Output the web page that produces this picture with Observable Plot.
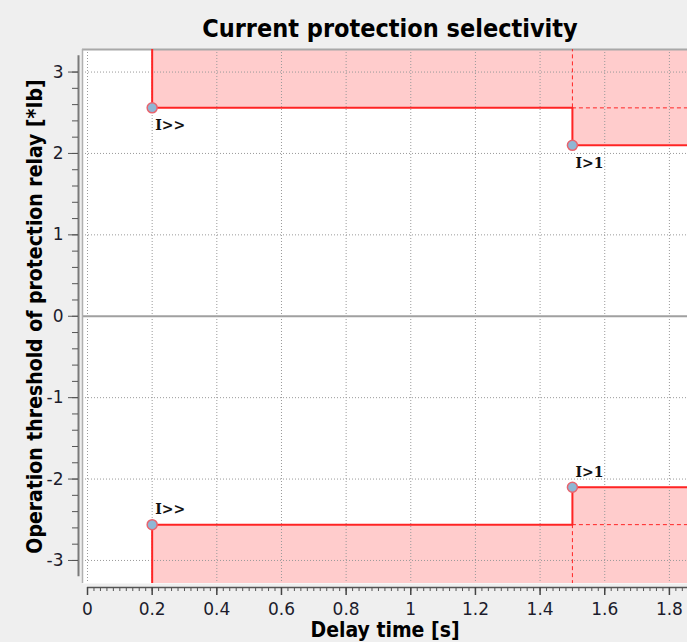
<!DOCTYPE html>
<html>
<head>
<meta charset="utf-8">
<script src="https://cdn.jsdelivr.net/npm/d3@7"></script>
<script src="https://cdn.jsdelivr.net/npm/@observablehq/plot@0.6"></script>
<style>
  html, body { margin: 0; padding: 0; background: #efefef; }
  #chart { width: 687px; height: 642px; overflow: hidden; }
  #title {
    height: 47px; box-sizing: border-box; padding-left: 93px; padding-top: 14px;
    text-align: center; font: bold 25px "DejaVu Sans Condensed", "DejaVu Sans", sans-serif;
    font-stretch: condensed; color: #000; line-height: 30px;
  }
  #chart svg g[aria-label$="tick label"] text {
    font-size: 17px !important;
    font-family: "DejaVu Sans", sans-serif !important;
    fill: #1c1c2c;
  }
</style>
</head>
<body>
<div id="chart">
  <div id="title">Current protection selectivity</div>
</div>
<script>
// ---- data ----
const stageNames = ["I>>", "I>1"];
const delayTimes = [0.2, 1.5];            // s
const upperThresholds = [2.56, 2.1];      // *Ib
const lowerThresholds = [-2.56, -2.1];    // *Ib

const xTickValues = [0, 0.2, 0.4, 0.6, 0.8, 1, 1.2, 1.4, 1.6, 1.8];
const yTickValues = [-3, -2, -1, 0, 1, 2, 3];
const yGridValues = [-3, -2, -1, 1, 2, 3];

const xLabel = "Delay time [s]";
const yLabel = "Operation threshold of protection relay [*Ib]";

// ---- scales / helpers ----
const xDomain = [-0.0155, 1.856];
const yDomain = [-3.283, 3.277];
const xEnd = xDomain[1];
const xMinor = d3.range(0, 93).map(i => i / 50);
const yMinor = d3.range(-15, 16).map(i => i / 5);

const red = "#ff2424";
const fillPink = "#ffcccc";

function stages(levels, edge) {
  const pts = delayTimes.map((t, i) => ({name: stageNames[i], x: t, y: levels[i], edge}));
  const steps = pts.concat([{x: xEnd, y: levels[levels.length - 1], edge}]);
  const dashV = pts.slice(1).map((p, i) => ({x: p.x, y1: levels[i], y2: edge}));
  const dashH = pts.slice(1).map((p, i) => ({x1: p.x, x2: xEnd, y: levels[i]}));
  return {pts, steps, dashV, dashH};
}
const up = stages(upperThresholds, yDomain[1]);
const lo = stages(lowerThresholds, yDomain[0]);

const labelFont = {fontFamily: "DejaVu Serif", fontWeight: "bold", fontSize: 14, fill: "#111"};
const titleFont = {fontFamily: "DejaVu Sans Condensed, DejaVu Sans", fontWeight: "bold", fontSize: 21, fill: "#000"};

const marks = [
  Plot.frame({fill: "white", stroke: null}),
  // pink zones
  ...[up, lo].map(s => Plot.areaY(s.steps, {x: "x", y1: "y", y2: "edge", curve: "step-after", fill: fillPink})),
  // grid
  Plot.gridX({ticks: xTickValues, stroke: "#9a9a9a", strokeOpacity: 1, strokeDasharray: "1,2"}),
  Plot.gridY({ticks: yGridValues, stroke: "#9a9a9a", strokeOpacity: 1, strokeDasharray: "1,2"}),
  Plot.ruleY([0], {stroke: "#a0a0a0", strokeWidth: 2}),
  // frame borders (top/left)
  Plot.ruleY([yDomain[1]], {stroke: "#a8a8a8", strokeWidth: 2}),
  Plot.ruleX([xDomain[0]], {stroke: "#b0b0b0", strokeWidth: 1.5}),
  // dashed continuation lines
  ...[up, lo].flatMap(s => [
    Plot.ruleX(s.dashV, {x: "x", y1: "y1", y2: "y2", stroke: red, strokeWidth: 1, strokeDasharray: "4,3"}),
    Plot.ruleY(s.dashH, {y: "y", x1: "x1", x2: "x2", stroke: red, strokeWidth: 1, strokeDasharray: "4,3"})
  ]),
  // solid characteristic
  ...[up, lo].flatMap(s => [
    Plot.ruleX(s.pts.slice(0, 1), {x: "x", y1: "y", y2: "edge", stroke: red, strokeWidth: 2}),
    Plot.line(s.steps, {x: "x", y: "y", curve: "step-after", stroke: red, strokeWidth: 2})
  ]),
  // setting points
  ...[up, lo].map(s => Plot.dot(s.pts, {x: "x", y: "y", r: 5, fill: "#8fb6d4", stroke: "#e8646e", strokeWidth: 1.5})),
  Plot.text(up.pts, {x: "x", y: "y", text: "name", dx: 3, dy: 18, textAnchor: "start", ...labelFont}),
  Plot.text(lo.pts, {x: "x", y: "y", text: "name", dx: 3, dy: -15, textAnchor: "start", ...labelFont}),
  // axes
  Plot.ruleX([xDomain[0]], {y1: -3.2, y2: 3.2, dx: -4, stroke: "#7a7a7a", strokeWidth: 2}),
  Plot.ruleY([yDomain[0]], {x1: 0, x2: xEnd, dy: 4, stroke: "#555", strokeWidth: 1.5}),
  Plot.axisY({ticks: yMinor, tickSize: 6, dx: -4, tickFormat: () => "", stroke: "#555", label: null}),
  Plot.axisY({ticks: yTickValues, tickSize: 10, dx: -4, tickPadding: 5, tickFormat: d => String(d), stroke: "#555", label: null}),
  Plot.axisX({ticks: xMinor, tickSize: 4, dy: 4, tickFormat: () => "", stroke: "#555", label: null}),
  Plot.axisX({ticks: xTickValues, tickSize: 8, dy: 4, tickPadding: 7, tickFormat: d => String(d), stroke: "#444", strokeWidth: 1.5, label: null}),
  // axis titles
  Plot.text([xLabel], {frameAnchor: "bottom", dy: 47, lineAnchor: "middle", textAnchor: "middle", ...titleFont}),
  Plot.text([yLabel], {frameAnchor: "left", dx: -47, rotate: -90, textAnchor: "middle", ...titleFont})
];

const chart = Plot.plot({
  width: 687,
  height: 595,
  marginTop: 2,
  marginBottom: 59,
  marginLeft: 82,
  marginRight: 0,
  x: {domain: xDomain},
  y: {domain: yDomain},
  style: {background: "transparent", fontFamily: "DejaVu Sans", fontSize: "17px", color: "#1c1c2c", overflow: "visible"},
  marks
});
document.getElementById("chart").appendChild(chart);
</script>
</body>
</html>
